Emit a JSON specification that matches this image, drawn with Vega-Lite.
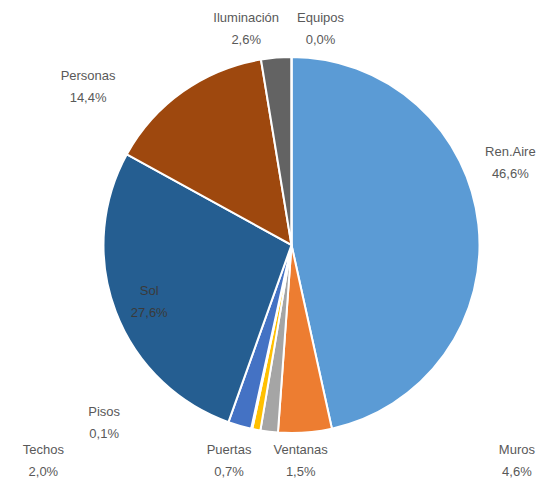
{
  "$schema": "https://vega.github.io/schema/vega-lite/v6.json",
  "width": 523,
  "height": 482,
  "autosize": "none",
  "padding": {"left": 30, "top": 4, "right": 0, "bottom": 0},
  "background": "white",
  "config": {"view": {"stroke": null}},
  "data": {
    "values": [
      {"idx": 1, "name": "Ren.Aire", "value": 46.6},
      {"idx": 2, "name": "Muros", "value": 4.6},
      {"idx": 3, "name": "Ventanas", "value": 1.5},
      {"idx": 4, "name": "Puertas", "value": 0.7},
      {"idx": 5, "name": "Pisos", "value": 0.1},
      {"idx": 6, "name": "Techos", "value": 2.0},
      {"idx": 7, "name": "Sol", "value": 27.6},
      {"idx": 8, "name": "Personas", "value": 14.4},
      {"idx": 9, "name": "Iluminación", "value": 2.6},
      {"idx": 10, "name": "Equipos", "value": 0.0}
    ]
  },
  "transform": [
    {"calculate": "datum.name + '\\n' + replace(format(datum.value, '.1f'), '.', ',') + '%'", "as": "label"}
  ],
  "encoding": {
    "theta": {"field": "value", "type": "quantitative", "stack": true},
    "order": {"field": "idx", "type": "quantitative"}
  },
  "layer": [
    {
      "mark": {"type": "arc", "outerRadius": 188, "stroke": "white", "strokeWidth": 2},
      "encoding": {
        "color": {
          "field": "name", "type": "nominal", "legend": null,
          "scale": {
            "domain": ["Ren.Aire", "Muros", "Ventanas", "Puertas", "Pisos", "Techos", "Sol", "Personas", "Iluminación", "Equipos"],
            "range": ["#5B9BD5", "#ED7D31", "#A5A5A5", "#FFC000", "#70AD47", "#4472C4", "#255E91", "#9E480E", "#636363", "#997300"]
          }
        }
      }
    },
    {"mark": {"type": "text", "radius": 200, "dx": 20, "dy": -71, "font": "Liberation Sans", "fontSize": 13, "fill": "#595959", "lineBreak": "\n", "lineHeight": 22, "baseline": "middle"},
     "encoding": {"text": {"condition": {"test": "datum.name === 'Ren.Aire'", "field": "label"}, "value": ""}}},
    {"mark": {"type": "text", "radius": 200, "dx": 211, "dy": 6, "font": "Liberation Sans", "fontSize": 13, "fill": "#595959", "lineBreak": "\n", "lineHeight": 22, "baseline": "middle"},
     "encoding": {"text": {"condition": {"test": "datum.name === 'Muros'", "field": "label"}, "value": ""}}},
    {"mark": {"type": "text", "radius": 200, "dx": 33, "dy": 6, "font": "Liberation Sans", "fontSize": 13, "fill": "#595959", "lineBreak": "\n", "lineHeight": 22, "baseline": "middle"},
     "encoding": {"text": {"condition": {"test": "datum.name === 'Ventanas'", "field": "label"}, "value": ""}}},
    {"mark": {"type": "text", "radius": 200, "dx": -25, "dy": 9, "font": "Liberation Sans", "fontSize": 13, "fill": "#595959", "lineBreak": "\n", "lineHeight": 22, "baseline": "middle"},
     "encoding": {"text": {"condition": {"test": "datum.name === 'Puertas'", "field": "label"}, "value": ""}}},
    {"mark": {"type": "text", "radius": 200, "dx": -145, "dy": -28, "font": "Liberation Sans", "fontSize": 13, "fill": "#595959", "lineBreak": "\n", "lineHeight": 22, "baseline": "middle"},
     "encoding": {"text": {"condition": {"test": "datum.name === 'Pisos'", "field": "label"}, "value": ""}}},
    {"mark": {"type": "text", "radius": 200, "dx": -193, "dy": 13, "font": "Liberation Sans", "fontSize": 13, "fill": "#595959", "lineBreak": "\n", "lineHeight": 22, "baseline": "middle"},
     "encoding": {"text": {"condition": {"test": "datum.name === 'Techos'", "field": "label"}, "value": ""}}},
    {"mark": {"type": "text", "radius": 150, "dx": -2, "dy": -7, "font": "Liberation Sans", "fontSize": 13, "fill": "#3A3A3A", "lineBreak": "\n", "lineHeight": 22, "baseline": "middle"},
     "encoding": {"text": {"condition": {"test": "datum.name === 'Sol'", "field": "label"}, "value": ""}}},
    {"mark": {"type": "text", "radius": 200, "dx": -88, "dy": -6, "font": "Liberation Sans", "fontSize": 13, "fill": "#595959", "lineBreak": "\n", "lineHeight": 22, "baseline": "middle"},
     "encoding": {"text": {"condition": {"test": "datum.name === 'Personas'", "field": "label"}, "value": ""}}},
    {"mark": {"type": "text", "radius": 200, "dx": -29, "dy": -28, "font": "Liberation Sans", "fontSize": 13, "fill": "#595959", "lineBreak": "\n", "lineHeight": 22, "baseline": "middle"},
     "encoding": {"text": {"condition": {"test": "datum.name === 'Iluminación'", "field": "label"}, "value": ""}}},
    {"mark": {"type": "text", "radius": 200, "dx": 29, "dy": -27, "font": "Liberation Sans", "fontSize": 13, "fill": "#595959", "lineBreak": "\n", "lineHeight": 22, "baseline": "middle"},
     "encoding": {"text": {"condition": {"test": "datum.name === 'Equipos'", "field": "label"}, "value": ""}}}
  ]
}
